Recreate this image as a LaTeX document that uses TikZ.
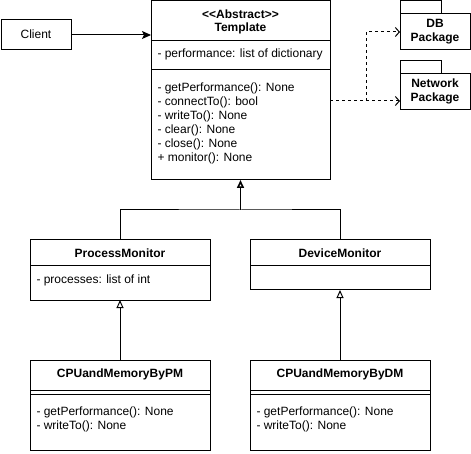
\documentclass[tikz,border=0pt]{standalone}
\usepackage{fontspec}
\setmainfont{Liberation Sans}
\usetikzlibrary{arrows.meta}
\begin{document}
\begin{tikzpicture}[x=1pt,y=-1pt, line width=1pt,
 box/.style={draw, inner sep=0pt, outer sep=0pt, anchor=north west},
 txt/.style={inner sep=0pt, font=\fontsize{12}{14}\selectfont},
 ttl/.style={inner sep=0pt, font=\fontsize{12}{14}\selectfont\bfseries, anchor=base},
 lt/.style={txt, anchor=base west},
 gen/.style={-{Triangle[open,length=8pt,width=7pt]}},
 dep/.style={dash pattern=on 3pt off 3pt, -{Straight Barb[length=4pt,width=9pt]}},
 assoc/.style={-{Stealth[length=9pt,width=8pt,inset=2pt]}}]
\useasboundingbox (0,0) rectangle (471,454);

% Client
\node[box, minimum width=70pt, minimum height=30pt] (client) at (1,20) {};
\node[txt, anchor=base] (clientt) at (36,39) {Client};

% Template
\node[box, minimum width=179pt, minimum height=179pt] (tpl) at (151,1) {};
\draw (151,41) -- (330,41);
\draw (151,70) -- (330,70);
\node[ttl] (tplt1) at (240.5,18.3) {<\kern0pt<Abstract>\kern0pt>};
\node[ttl] (tplt2) at (240.5,31.7) {Template};
\node[lt] (tpla) at (157,57.5) {- performance: list of dictionary};
\node[lt] (tplm1) at (157,91.7) {- getPerformance(): None};
\node[lt] (tplm2) at (157,105.7) {- connectTo(): bool};
\node[lt] (tplm3) at (157,119.7) {- writeTo(): None};
\node[lt] (tplm4) at (157,133.7) {- clear(): None};
\node[lt] (tplm5) at (157,147.7) {- close(): None};
\node[lt] (tplm6) at (157,161.7) {+ monitor(): None};

% Packages
\draw (400,1) rectangle (441,14);
\node[box, minimum width=70pt, minimum height=36pt] (db) at (400,14) {};
\node[ttl] (dbt1) at (435,28) {DB};
\node[ttl] (dbt2) at (435,41.3) {Package};
\draw (400,61) rectangle (441,74);
\node[box, minimum width=70pt, minimum height=36pt] (net) at (400,74) {};
\node[ttl] (nett1) at (435,87.3) {Network};
\node[ttl] (nett2) at (435,101.7) {Package};

% ProcessMonitor
\node[box, minimum width=180pt, minimum height=60pt] (pm) at (30,240) {};
\draw (30,266) -- (210,266);
\node[ttl] (pmt) at (120,257.3) {ProcessMonitor};
\node[lt] (pma) at (36,283.3) {- processes: list of int};

% DeviceMonitor
\node[box, minimum width=180pt, minimum height=50pt] (dm) at (250,240) {};
\draw (250,266) -- (430,266);
\node[ttl] (dmt) at (340,257.3) {DeviceMonitor};

% CPUandMemoryByPM
\node[box, minimum width=180pt, minimum height=90pt] (cpm) at (30,360) {};
\draw (30,390) -- (210,390);
\draw (30,394) -- (210,394);
\node[ttl] (cpmt) at (120,377.3) {CPUandMemoryByPM};
\node[lt] (cpm1) at (36,415.3) {- getPerformance(): None};
\node[lt] (cpm2) at (36,429.7) {- writeTo(): None};

% CPUandMemoryByDM
\node[box, minimum width=180pt, minimum height=90pt] (cdm) at (250,360) {};
\draw (250,390) -- (430,390);
\draw (250,394) -- (430,394);
\node[ttl] (cdmt) at (340,377.3) {CPUandMemoryByDM};
\node[lt] (cdm1) at (256,415.3) {- getPerformance(): None};
\node[lt] (cdm2) at (256,429.7) {- writeTo(): None};

% connectors
\draw[assoc] (client.east) -- (client.east -| tpl.west);
\coordinate (j) at (366,101);
\draw[dep] (j -| tpl.east) -- (j) |- (db.west);
\draw[dep] (j) -- (j -| net.west);
\coordinate (h) at (240.5,210);
\draw[gen, line width=1.6pt] (h) -- (tpl.south);
\draw (pm.north) |- (h) -| (dm.north);
\draw[gen] (cpm.north) -- (pm.south);
\draw[gen] (cdm.north) -- (dm.south);
\end{tikzpicture}
\end{document}
